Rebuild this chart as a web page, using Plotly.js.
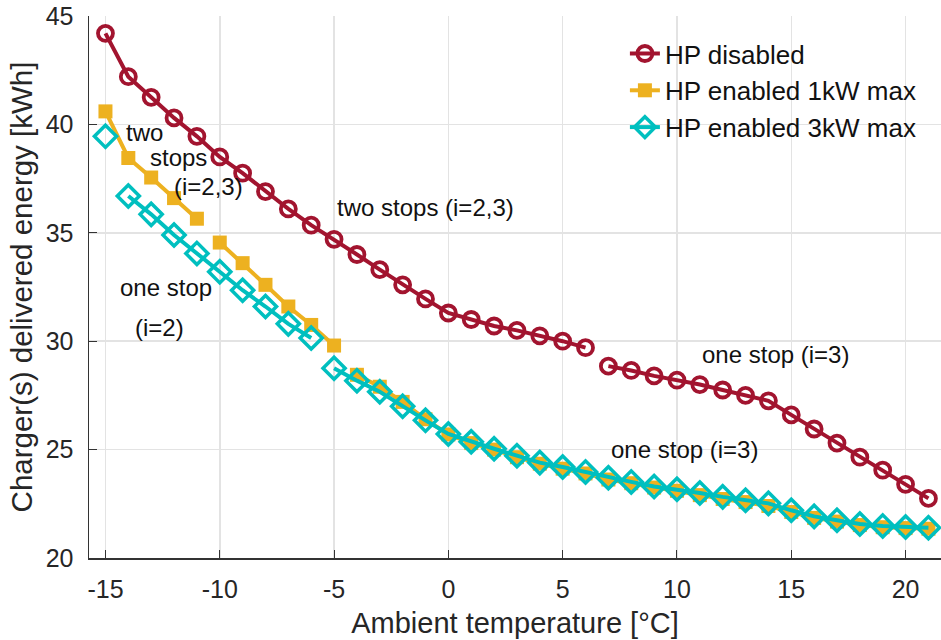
<!DOCTYPE html>
<html>
<head>
<meta charset="utf-8">
<script src="https://cdn.plot.ly/plotly-3.0.1.min.js"></script>
<style>
  html, body { margin: 0; padding: 0; background: #fff; }
  #chart { width: 941px; height: 640px; }
</style>
</head>
<body>
<div id="chart"></div>
<script>
// Tick positions and labels (plain hyphen for negatives)
const xTickVals = [-15, -10, -5, 0, 5, 10, 15, 20];
const xTickText = ['-15', '-10', '-5', '0', '5', '10', '15', '20'];
const yTickVals = [20, 25, 30, 35, 40, 45];

// Delivered energy [kWh] versus ambient temperature [°C];
// a null entry (at a half-degree x) breaks the line between stop regimes
const hpDisabledX = [-15, -14, -13, -12, -11, -10, -9, -8, -7, -6, -5, -4, -3, -2, -1, 0,
  1, 2, 3, 4, 5, 6, 6.5, 7, 8, 9, 10, 11, 12, 13, 14, 15, 16, 17, 18, 19, 20, 21];
const hpDisabled = [44.2, 42.2, 41.25, 40.3, 39.45, 38.5, 37.75, 36.9, 36.1, 35.35, 34.7, 34.0,
  33.3, 32.6, 31.95, 31.3, 31.0, 30.7, 30.5, 30.25, 30.0, 29.7, null, 28.85, 28.65, 28.4, 28.2,
  28.0, 27.75, 27.5, 27.25, 26.6, 25.95, 25.3, 24.65, 24.05, 23.4, 22.75];

const hp1kWX = [-15, -14, -13, -12, -11, -10.5, -10, -9, -8, -7, -6, -5, -4.5, -4, -3, -2, -1, 0,
  1, 2, 3, 4, 5, 6, 7, 8, 9, 10, 11, 12, 13, 14, 15, 16, 17, 18, 19, 20, 21];
const hp1kW = [40.6, 38.45, 37.55, 36.6, 35.65, null, 34.55, 33.6, 32.6, 31.6, 30.75, 29.8, null,
  28.45, 27.9, 27.2, 26.4, 25.7, 25.3, 25.0, 24.65, 24.35, 24.12, 23.9, 23.62, 23.45, 23.25,
  23.1, 22.9, 22.72, 22.58, 22.4, 22.12, 21.85, 21.68, 21.52, 21.42, 21.38, 21.35];

const hp3kWX = [-15, -14.5, -14, -13, -12, -11, -10, -9, -8, -7, -6, -5.5, -5, -4, -3, -2, -1, 0,
  1, 2, 3, 4, 5, 6, 7, 8, 9, 10, 11, 12, 13, 14, 15, 16, 17, 18, 19, 20, 21];
const hp3kW = [39.45, null, 36.7, 35.85, 34.9, 34.05, 33.2, 32.35, 31.6, 30.8, 30.15, null,
  28.75, 28.18, 27.67, 27.0, 26.35, 25.72, 25.36, 25.04, 24.72, 24.4, 24.2, 23.97, 23.7, 23.51,
  23.3, 23.17, 23.0, 22.82, 22.66, 22.52, 22.2, 21.92, 21.74, 21.57, 21.48, 21.43, 21.4];

const seriesNames = ['HP disabled', 'HP enabled 1kW max', 'HP enabled 3kW max'];

// Region notes placed in data coordinates (left edge, vertical middle)
const noteText = ['two', 'stops', '(i=2,3)', 'two stops (i=2,3)', 'one stop', '(i=2)',
  'one stop (i=3)', 'one stop (i=3)'];
const noteX = [-14.21, -13.16, -12.07, -4.94, -14.43, -13.78, 11.0, 7.02];
const noteY = [39.64, 38.48, 37.14, 36.17, 32.48, 30.63, 29.38, 24.99];

const red = '#A2142F', orange = '#EDB120', teal = '#00BFBF';
const fontFamily = 'Liberation Sans, Arial, Helvetica, sans-serif';

const traces = [
  {
    x: hpDisabledX, y: hpDisabled, name: seriesNames[0], legendgroup: 'a',
    type: 'scatter', mode: 'lines+markers', connectgaps: false,
    line: { color: red, width: 4 },
    marker: { symbol: 'circle-open', size: 15, color: red, line: { width: 3.8, color: red } }
  },
  {
    x: hp1kWX, y: hp1kW, name: seriesNames[1], legendgroup: 'b',
    type: 'scatter', mode: 'lines+markers', connectgaps: false,
    line: { color: orange, width: 4 },
    marker: { symbol: 'square', size: 14, color: orange }
  },
  {
    x: hp3kWX, y: hp3kW, name: seriesNames[2], legendgroup: 'c',
    type: 'scatter', mode: 'lines+markers', connectgaps: false,
    line: { color: teal, width: 4 },
    marker: { symbol: 'diamond-open', size: 17, color: teal, line: { width: 3.5, color: teal } }
  }
];

const annotations = noteText.map((t, i) => ({
  x: noteX[i], y: noteY[i], xref: 'x', yref: 'y', text: t, showarrow: false,
  xanchor: 'left', yanchor: 'middle',
  font: { family: fontFamily, size: 24, color: '#111' }
}));

const layout = {
  width: 941, height: 640,
  margin: { l: 89, r: 0, t: 16, b: 82 },
  paper_bgcolor: '#fff', plot_bgcolor: '#fff',
  font: { family: fontFamily, size: 25, color: '#262626' },
  showlegend: true,
  legend: {
    x: 0.629, y: 0.974, xanchor: 'left', yanchor: 'top',
    bgcolor: 'rgba(255,255,255,0)', borderwidth: 0,
    font: { size: 26, color: '#111' }, tracegroupgap: 0, itemwidth: 30
  },
  xaxis: {
    range: [-15.72, 21.55], tickvals: xTickVals, ticktext: xTickText,
    ticks: 'inside', ticklen: 8, tickcolor: '#333', tickwidth: 1,
    showline: true, linecolor: '#333', linewidth: 1.5, mirror: false,
    showgrid: true, gridcolor: '#e3e3e3', gridwidth: 1.5, zeroline: false,
    ticklabelstandoff: 8,
    title: { text: 'Ambient temperature [°C]', standoff: 11, font: { size: 29, color: '#262626' } }
  },
  yaxis: {
    range: [20, 45], tickvals: yTickVals,
    ticks: 'inside', ticklen: 8, tickcolor: '#333', tickwidth: 1,
    showline: true, linecolor: '#333', linewidth: 1.5, mirror: false,
    showgrid: true, gridcolor: '#e3e3e3', gridwidth: 1.5, zeroline: false,
    ticklabelstandoff: 9,
    title: { text: 'Charger(s) delivered energy [kWh]', standoff: 4, font: { size: 29.5, color: '#262626' } }
  },
  annotations: annotations
};

Plotly.newPlot('chart', traces, layout, { displayModeBar: false, staticPlot: true });
</script>
</body>
</html>
